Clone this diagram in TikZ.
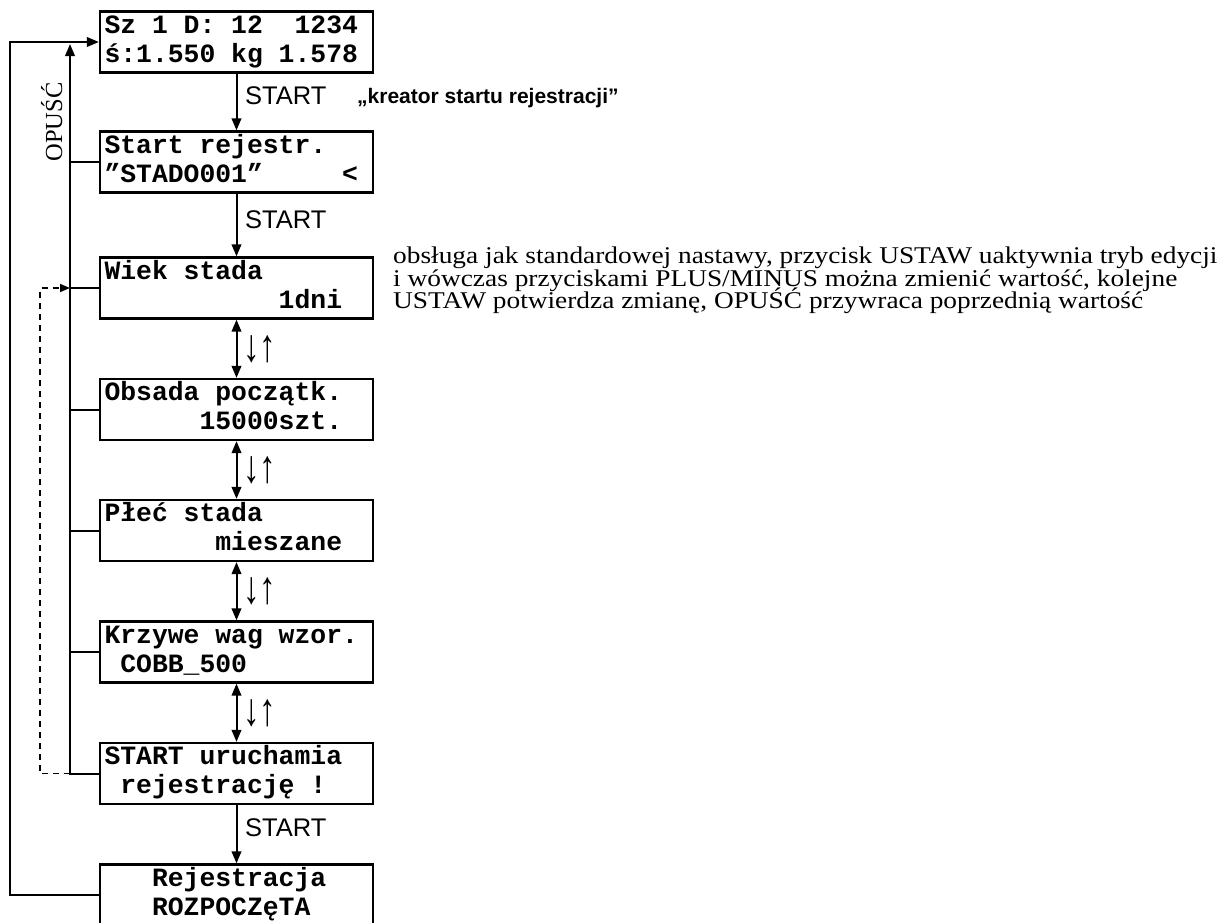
\documentclass[tikz,border=0pt]{standalone}
\usepackage{fontspec}
\usetikzlibrary{arrows.meta}
\setmainfont{Liberation Serif}
\newfontfamily\lcd{Liberation Mono}
\newfontfamily\arialf{Liberation Sans}
\newfontfamily\tnr[FakeStretch=1.14]{Liberation Serif}
\newfontfamily\arrowf[FakeStretch=0.72]{Liberation Serif}
\newcommand{\lcdfont}{\lcd\bfseries\fontsize{26.4}{29}\selectfont}
\newcommand{\csp}{\hspace*{15.84pt}}
\tikzset{
  lcdbox/.style={draw, line width=2.2pt, text width=264pt, align=left, inner xsep=4.5pt, inner ysep=0pt,
     minimum height=61pt, font=\lcdfont},
  conn/.style={line width=2pt},
  arr/.style={conn, -{Triangle[length=12pt,width=9.5pt]}},
  darr/.style={conn, {Triangle[length=12pt,width=9.5pt]}-{Triangle[length=12pt,width=9.5pt]}},
  dashline/.style={line width=1.6pt, dash pattern=on 6pt off 5pt},
  keylbl/.style={anchor=base west, inner sep=0pt, font=\arialf\fontsize{25.5}{28}\selectfont},
  udlbl/.style={anchor=west, inner sep=0pt, font=\arrowf\fontsize{46}{48}\selectfont},
  note/.style={anchor=base west, inner sep=0pt, font=\tnr\fontsize{24}{26}\selectfont}
}
\begin{document}
\begin{tikzpicture}[x=1pt,y=-1pt]
\useasboundingbox (0,0) rectangle (1225,922);
% boxes
\node[lcdbox] (b1) at (236.5,42)    {\strut Sz\csp1\csp D:\csp12\csp\csp1234\\\strut ś:1.550\csp kg\csp1.578};
\node[lcdbox] (b2) at (236.5,162)   {\strut Start\csp rejestr.\\\strut ”STADO001”\csp\csp\csp\csp\csp<};
\node[lcdbox] (b3) at (236.5,288)   {\strut Wiek\csp stada\\\strut \csp\csp\csp\csp\csp\csp\csp\csp\csp\csp\csp1dni};
\node[lcdbox] (b4) at (236.5,409.5) {\strut Obsada\csp początk.\\\strut \csp\csp\csp\csp\csp\csp15000szt.};
\node[lcdbox] (b5) at (236.5,530.5) {\strut Płeć\csp stada\\\strut \csp\csp\csp\csp\csp\csp\csp mieszane};
\node[lcdbox] (b6) at (236.5,652)   {\strut Krzywe\csp wag\csp wzor.\\\strut \csp COBB\_500};
\node[lcdbox] (b7) at (236.5,773.5) {\strut START\csp uruchamia\\\strut \csp rejestrację\csp!};
\node[lcdbox] (b8) at (236.5,895)   {\strut \csp\csp\csp Rejestracja\\\strut \csp\csp\csp ROZPOCZęTA};
% forward arrows
\draw[arr] (b1.south) -- (b2.north);
\draw[arr] (b2.south) -- (b3.north);
\draw[darr] (b3.south) -- (b4.north);
\draw[darr] (b4.south) -- (b5.north);
\draw[darr] (b5.south) -- (b6.north);
\draw[darr] (b6.south) -- (b7.north);
\draw[arr] (b7.south) -- (b8.north);
% labels
\node[keylbl] (s1) at (245,104) {START};
\node[keylbl, font=\arialf\bfseries\fontsize{21}{24}\selectfont] (kr) at (357,103.5) {„kreator startu rejestracji”};
\node[keylbl] (s2) at (245,228) {START};
\node[keylbl] (s3) at (245,836) {START};
\node[udlbl] (u1) at (243,349) {↓↑};
\node[udlbl] (u2) at (243,470.5) {↓↑};
\node[udlbl] (u3) at (243,591.5) {↓↑};
\node[udlbl] (u4) at (243,713) {↓↑};
% outer return line
\coordinate (ol) at (10,42);
\draw[arr] (b8.west) -| (ol) -- (b1.west);
% inner OPUSC line
\coordinate (ilt) at (70,44);
\coordinate (ilb) at (70,773.5);
\draw[arr] (b7.west) -- (ilb) -- (ilt);
\draw[conn] (b2.west) -- (b2.west -| ilt);
\draw[conn] (b3.west) -- (b3.west -| ilt);
\draw[conn] (b4.west) -- (b4.west -| ilt);
\draw[conn] (b5.west) -- (b5.west -| ilt);
\draw[conn] (b6.west) -- (b6.west -| ilt);
\node[rotate=90, anchor=base, inner sep=0pt, font=\fontsize{24.5}{26}\selectfont] (op) at (62,122) {OPUŚĆ};
% dashed loop
\coordinate (dlb) at (40,773.5);
\coordinate (dlt) at (40,288);
\draw[dashline, -{Triangle[length=10pt,width=8pt]}] (ilb) -- (dlb) -- (dlt) -- (b3.west -| ilt);
% note
\node[note] (r1) at (393,263) {obsługa jak standardowej nastawy, przycisk USTAW uaktywnia tryb edycji};
\node[note] (r2) at (393,286) {i wówczas przyciskami PLUS/MINUS można zmienić wartość, kolejne};
\node[note] (r3) at (393,308.5) {USTAW potwierdza zmianę, OPUŚĆ przywraca poprzednią wartość};
\end{tikzpicture}
\end{document}
